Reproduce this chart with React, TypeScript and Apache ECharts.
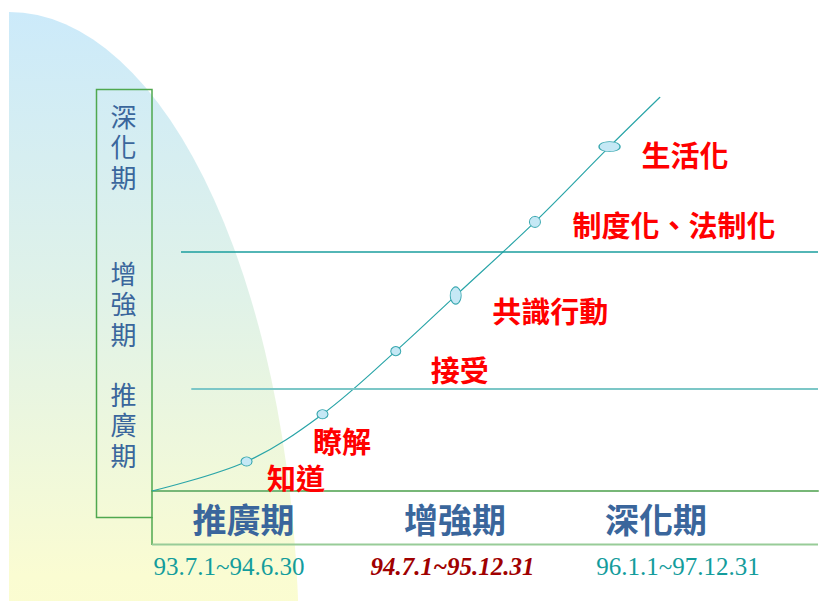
import React, { useEffect, useRef } from 'react';
import * as echarts from 'echarts';

// ---- data ----
const stageNames = ['推廣期', '增強期', '深化期'];
const stageDates = ['93.7.1~94.6.30', '94.7.1~95.12.31', '96.1.1~97.12.31'];
const milestoneNames = ['', '知道', '瞭解', '接受', '共識行動', '制度化、法制化', '生活化', ''];
const progressX = [0, 14.2, 25.6, 36.6, 45.6, 57.5, 68.7, 76.3];
const progressY = [0, 7.5, 19.5, 35.5, 49.6, 68.3, 87.4, 100];
const boundaryLevels = [26.0, 60.7];
const boundaryStarts = [5.9, 4.35];

// ---- layout / style (not data) ----
const markerSizes: (number[] | null)[] = [null, [11, 9], [11, 9], [10, 9], [11, 17], [11, 11], [21, 10], null];
const labelOffsets: (number[] | null)[] = [null, [49.5, 15.5], [19.5, 26], [64, 18], [94.5, 14.5], [139, 2], [75.5, 7.5], null];
const boundaryStyles = [
  { color: '#7CC7C7', width: 2.2 },
  { color: '#1A9E9E', width: 1.5 },
];
const stageLabelX = [243.5, 455, 656];
const stageDateX = [229, 452.5, 678];
const stageDateStyle = [
  { fill: '#139C9C', fontWeight: 'normal', fontStyle: 'normal' },
  { fill: '#A00000', fontWeight: 'bold', fontStyle: 'italic' },
  { fill: '#139C9C', fontWeight: 'normal', fontStyle: 'normal' },
];
const verticalLabelY = [423.5, 302.5, 145.5];
const verticalCharStep = 30.5;

echarts.graphic.registerShape(
  'bgArc',
  echarts.graphic.extendPath('M9,12 A290,640 0 0 1 299,652 L9,652 Z', {})
);

const CJK = '"Noto Sans CJK TC", "Noto Sans CJK SC", sans-serif';

export default function App() {
  const ref = useRef<HTMLDivElement>(null);
  useEffect(() => {
    if (!ref.current) return;
    const chart = echarts.init(ref.current, undefined, { renderer: 'svg' });

    const lineData = progressX.map((x, i) => {
      const size = markerSizes[i];
      const off = labelOffsets[i];
      const item: any = { value: [x, progressY[i]] };
      if (!size) {
        item.symbol = 'none';
        item.label = { show: false };
      } else {
        item.symbol = 'circle';
        item.symbolSize = size;
        item.label = {
          show: true,
          formatter: milestoneNames[i],
          position: 'inside',
          offset: off,
          color: '#FF0000',
          fontSize: 29,
          fontWeight: 'bold',
          fontFamily: CJK,
        };
      }
      return item;
    });

    const gradient = new echarts.graphic.LinearGradient(0, 0, 0, 1, [
      { offset: 0, color: '#CCEAFA' },
      { offset: 0.45, color: '#E0F2E8' },
      { offset: 0.88, color: '#FAFCD2' },
      { offset: 1, color: '#FCFDCF' },
    ]);

    const graphics: any[] = [
      { type: 'bgArc', z: -10, silent: true, style: { fill: gradient } },
      {
        type: 'rect',
        z: 1,
        shape: { x: 96.5, y: 89.5, width: 55.5, height: 428 },
        style: { fill: 'none', stroke: '#4FA84F', lineWidth: 1.5 },
      },
      {
        type: 'line',
        z: 1,
        shape: { x1: 152, y1: 517, x2: 152, y2: 545 },
        style: { stroke: '#4FA84F', lineWidth: 1.5 },
      },
      {
        type: 'line',
        z: 1,
        shape: { x1: 152, y1: 544.5, x2: 818, y2: 544.5 },
        style: { stroke: '#98CC98', lineWidth: 2 },
      },
    ];

    stageNames.forEach((name, i) => {
      graphics.push({
        type: 'text',
        z: 5,
        x: stageLabelX[i],
        y: 518,
        style: {
          text: name,
          align: 'center',
          verticalAlign: 'middle',
          fontSize: 34,
          fontWeight: 'bold',
          fontFamily: CJK,
          fill: '#3A669C',
        },
      });
      graphics.push({
        type: 'text',
        z: 5,
        x: stageDateX[i],
        y: 566,
        style: {
          text: stageDates[i],
          align: 'center',
          verticalAlign: 'middle',
          fontSize: 25,
          fontFamily: '"Liberation Serif", "Times New Roman", serif',
          fontWeight: stageDateStyle[i].fontWeight,
          fontStyle: stageDateStyle[i].fontStyle,
          fill: stageDateStyle[i].fill,
        },
      });
      const chars = name.split('');
      chars.forEach((ch, k) => {
        graphics.push({
          type: 'text',
          z: 5,
          x: 123.5,
          y: verticalLabelY[i] + (k - (chars.length - 1) / 2) * verticalCharStep,
          style: {
            text: ch,
            align: 'center',
            verticalAlign: 'middle',
            fontSize: 26,
            lineHeight: 26,
            fontFamily: CJK,
            fill: '#3A669C',
          },
        });
      });
    });

    chart.setOption({
      animation: false,
      backgroundColor: '#FFFFFF',
      grid: { left: 152, right: 3, top: 97, bottom: 110 },
      xAxis: {
        type: 'value',
        min: 0,
        max: 100,
        axisLine: { show: true, lineStyle: { color: '#77B777', width: 2 } },
        axisTick: { show: false },
        axisLabel: { show: false },
        splitLine: { show: false },
      },
      yAxis: {
        type: 'value',
        min: 0,
        max: 100,
        show: false,
      },
      graphic: graphics,
      series: [
        {
          type: 'line',
          silent: true,
          smooth: 0.35,
          data: lineData,
          lineStyle: { color: '#2AA5A8', width: 1.2 },
          itemStyle: { color: '#C5E8F5', borderColor: '#3AA8B0', borderWidth: 1 },
          emphasis: { disabled: true },
          z: 3,
          markLine: {
            silent: true,
            symbol: 'none',
            label: { show: false },
            data: boundaryLevels.map((lv, i) => [
              { coord: [boundaryStarts[i], lv], lineStyle: { color: boundaryStyles[i].color, width: boundaryStyles[i].width, type: 'solid' } },
              { coord: [100, lv] },
            ]),
          },
        },
      ],
    });
    return () => chart.dispose();
  }, []);
  return (
    <div
      ref={ref}
      style={{ position: 'fixed', left: 0, top: 0, width: 821, height: 601 }}
    />
  );
}
